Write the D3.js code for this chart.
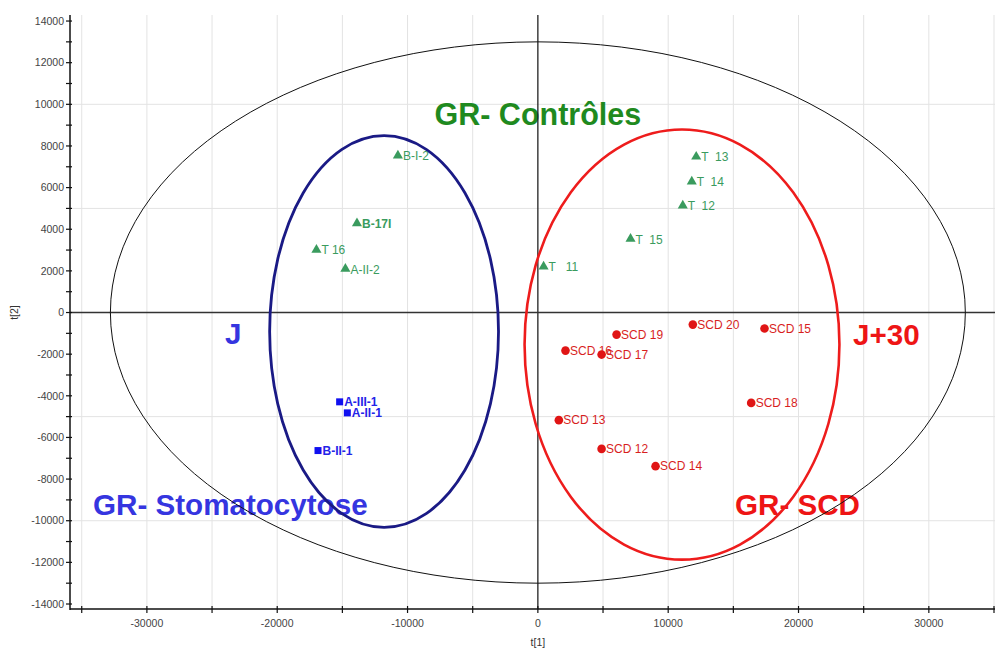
<!DOCTYPE html>
<html>
<head>
<meta charset="utf-8">
<script src="https://cdn.jsdelivr.net/npm/d3@7"></script>
<style>
  html, body { margin: 0; padding: 0; background: #fff; }
  svg text { font-family: "Liberation Sans", Arial, sans-serif; white-space: pre; }
</style>
</head>
<body>
<svg id="chart" width="995" height="650"></svg>
<script>
// PCA score plot t[1] vs t[2]

// Control red cells (green triangles)
const ctrlNames = ["B-I-2", "B-17I", "T 16", "A-II-2", "T  13", "T  14", "T  12", "T  15", "T   11"];
const ctrlT1 = [-10740, -13880, -16990, -14770, 12150, 11810, 11120, 7110, 440];
const ctrlT2 = [7510, 4260, 2990, 2070, 7460, 6260, 5110, 3510, 2180];

// Sickle cell disease samples (red circles)
const scdNames = ["SCD 20", "SCD 15", "SCD 19", "SCD 16", "SCD 17", "SCD 18", "SCD 13", "SCD 12", "SCD 14"];
const scdT1 = [11890, 17390, 6040, 2120, 4890, 16370, 1610, 4890, 9030];
const scdT2 = [-580, -770, -1060, -1830, -2020, -4340, -5170, -6550, -7380];

// Stomatocytosis samples (blue squares)
const stomNames = ["A-III-1", "A-II-1", "B-II-1"];
const stomT1 = [-15210, -14620, -16870];
const stomT2 = [-4290, -4820, -6630];

// Ellipses: Hotelling T2 region and the two group outlines [cx, cy, rx, ry]
const hotelling = [0, 0, 32800, 13000];
const stomEllipse = [-11800, -910, 8780, 9410];
const scdEllipse = [11060, -1540, 12080, 10330];

// Axis ticks
const xTickLabels = [-30000, -20000, -10000, 0, 10000, 20000, 30000];
const xTickMarks = [-35000, -30000, -25000, -20000, -15000, -10000, -5000, 0, 5000, 10000, 15000, 20000, 25000, 30000, 35000];
const yTickLabels = [-14000, -12000, -10000, -8000, -6000, -4000, -2000, 0, 2000, 4000, 6000, 8000, 10000, 12000, 14000];
const yTickMarks = [-14000, -13000, -12000, -11000, -10000, -9000, -8000, -7000, -6000, -5000, -4000, -3000, -2000, -1000, 0,
  1000, 2000, 3000, 4000, 5000, 6000, 7000, 8000, 9000, 10000, 11000, 12000, 13000, 14000];
const gridX = [-35000, -30000, -25000, -20000, -15000, -10000, -5000, 5000, 10000, 15000, 20000, 25000, 30000, 35000];
const gridY = [-10000, -5000, 5000, 10000];

const svg = d3.select("#chart");
const plotL = 70, plotR = 995, plotT = 15, plotB = 609;

const x = d3.scaleLinear().domain([-35900, 35000]).range([plotL, 994]);
const y = d3.scaleLinear().domain([-14240, 14290]).range([plotB, plotT]);

// grid
const grid = svg.append("g").attr("stroke", "#e3e3e3").attr("stroke-width", 1);
grid.selectAll("line.gx").data(gridX).join("line")
  .attr("x1", d => x(d)).attr("x2", d => x(d)).attr("y1", plotT).attr("y2", plotB);
grid.selectAll("line.gy").data(gridY).join("line")
  .attr("x1", plotL).attr("x2", plotR).attr("y1", d => y(d)).attr("y2", d => y(d));

// group titles (under the ellipses)
const titles = svg.append("g").attr("font-weight", "bold").attr("font-size", 29.6);
titles.append("text").attr("x", x(0)).attr("y", 125).attr("text-anchor", "middle")
  .attr("font-size", 30.5).attr("fill", "#1f8a1f").text("GR- Contrôles");
titles.append("text").attr("x", 93).attr("y", 515).attr("fill", "#3535e0").text("GR- Stomatocytose");
titles.append("text").attr("x", 735).attr("y", 515).attr("fill", "#ee1515").text("GR- SCD");
titles.append("text").attr("x", 225).attr("y", 344).attr("fill", "#3535e0").text("J");
titles.append("text").attr("x", 853).attr("y", 345).attr("fill", "#ee1515").text("J+30");

// zero lines
svg.append("line").attr("x1", x(0)).attr("x2", x(0)).attr("y1", plotT).attr("y2", plotB)
  .attr("stroke", "#222").attr("stroke-width", 1.3);
svg.append("line").attr("x1", plotL).attr("x2", plotR).attr("y1", y(0)).attr("y2", y(0))
  .attr("stroke", "#333").attr("stroke-width", 1.3);

// ellipses
function drawEllipse(e, color, width) {
  svg.append("ellipse")
    .attr("cx", x(e[0])).attr("cy", y(e[1]))
    .attr("rx", x(e[0] + e[2]) - x(e[0])).attr("ry", y(e[1]) - y(e[1] + e[3]))
    .attr("fill", "none").attr("stroke", color).attr("stroke-width", width);
}
drawEllipse(hotelling, "#111", 1);
drawEllipse(stomEllipse, "#1a1a85", 2.8);
drawEllipse(scdEllipse, "#ee1c1c", 2.6);

// axes
const axisG = svg.append("g").attr("stroke", "#111").attr("stroke-width", 1.5);
axisG.append("line").attr("x1", plotL).attr("x2", plotL).attr("y1", plotT).attr("y2", plotB + 1);
axisG.append("line").attr("x1", plotL).attr("x2", plotR).attr("y1", plotB).attr("y2", plotB);
axisG.selectAll("line.xt").data(xTickMarks).join("line")
  .attr("x1", d => x(d)).attr("x2", d => x(d)).attr("y1", plotB - 3).attr("y2", plotB + 4)
  .attr("stroke-width", 1.2);
axisG.selectAll("line.yt").data(yTickMarks).join("line")
  .attr("x1", plotL - 4).attr("x2", plotL + 2).attr("y1", d => y(d)).attr("y2", d => y(d))
  .attr("stroke-width", 1.2);

const tickText = svg.append("g").attr("font-size", 10.5).attr("fill", "#444");
tickText.selectAll("text.xl").data(xTickLabels).join("text")
  .attr("x", d => x(d)).attr("y", plotB + 18).attr("text-anchor", "middle").text(d => d);
tickText.selectAll("text.yl").data(yTickLabels).join("text")
  .attr("x", plotL - 6).attr("y", d => y(d) + 3.7).attr("text-anchor", "end").text(d => d);

svg.append("text").attr("x", x(0)).attr("y", 646).attr("text-anchor", "middle")
  .attr("font-size", 10.5).attr("fill", "#333").text("t[1]");
svg.append("text").attr("transform", `translate(18,${y(0)}) rotate(-90)`).attr("text-anchor", "middle")
  .attr("font-size", 10.5).attr("fill", "#333").text("t[2]");

// points
function toRows(names, t1, t2) {
  return names.map((n, i) => ({ name: n, t1: t1[i], t2: t2[i] }));
}
const ctrl = toRows(ctrlNames, ctrlT1, ctrlT2);
const scd = toRows(scdNames, scdT1, scdT2);
const stom = toRows(stomNames, stomT1, stomT2);

const tri = d3.symbol().type(d3.symbolTriangle).size(44);
const ctrlG = svg.append("g");
ctrl.forEach(d => {
  const g = ctrlG.append("g");
  g.append("path").attr("d", tri).attr("transform", `translate(${x(d.t1)},${y(d.t2) - 0.5})`).attr("fill", "#3a9b5e");
  g.append("text").attr("x", x(d.t1) + 5).attr("y", y(d.t2) + 4.2).attr("font-size", 12)
    .attr("fill", "#3a9b5e").attr("font-weight", d.name === "B-17I" ? "bold" : "normal").text(d.name);
});

const scdG = svg.append("g");
scd.forEach(d => {
  const g = scdG.append("g");
  g.append("circle").attr("cx", x(d.t1)).attr("cy", y(d.t2)).attr("r", 4.3).attr("fill", "#e01515");
  g.append("text").attr("x", x(d.t1) + 4.5).attr("y", y(d.t2) + 4.2).attr("font-size", 12)
    .attr("fill", "#d81e1e").text(d.name);
});

const stomG = svg.append("g");
stom.forEach(d => {
  const g = stomG.append("g");
  g.append("rect").attr("x", x(d.t1) - 3.5).attr("y", y(d.t2) - 3.5).attr("width", 7).attr("height", 7).attr("fill", "#1010f0");
  g.append("text").attr("x", x(d.t1) + 4.5).attr("y", y(d.t2) + 4.2).attr("font-size", 12)
    .attr("font-weight", "bold").attr("fill", "#2424e8").text(d.name);
});
</script>
</body>
</html>
